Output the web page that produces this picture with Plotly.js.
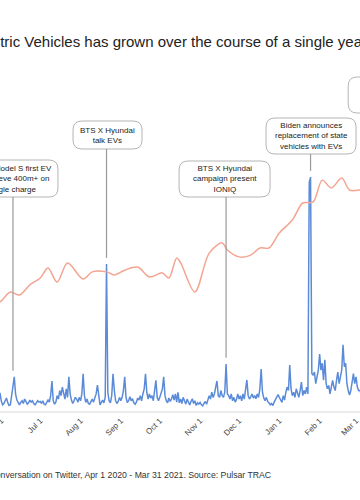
<!DOCTYPE html>
<html><head><meta charset="utf-8">
<script src="https://cdn.plot.ly/plotly-3.0.1.min.js"></script>
<style>
html,body{margin:0;padding:0;overflow:hidden;width:360px;height:500px;background:#fff;}
#chart{position:absolute;left:-200px;top:0;width:640px;height:500px;}
</style></head><body><div id="chart"></div>
<script>
// Daily volume of EV conversation (hundreds of posts), one array per month
const vol2020Apr = [4,3,2.5,2,3,4,5,4,3,2.5,2,3.5,5,6,4,3,2.5,2,4,5,7,5,3,2.5,2,3,4,6,4,3];
const vol2020May = [3,2.5,2,3,4,5,4,3,2.5,2,3,5,4,3.5,3,2,2.5,4,6,5,3,2.5,2,3,4,5,4,3,2,3.5,5.3];
const vol2020Jun = [3,1.8,2.2,3.2,3.8,2.5,1.6,1.8,4.5,6,10,5,3.2,2.5,1.8,2.5,3,2.2,3.5,2.8,2,2.4,3.2,2.6,3,2.2,1.8,2.4,3,2.6];
const vol2020Jul = [2.8,2.2,3,2,1.8,2.5,3.2,2.6,4.5,8.8,3,2,2.6,4.5,3.5,6,4.5,7,5,3.5,6.5,4,10,5,3.2,2.2,3,4,3.5,2.6,4];
const vol2020Aug = [3,5,10.9,4.5,2.5,3.5,2.2,2,2.8,3.5,2.6,3.8,5,7.6,3.5,1.8,2.5,3.2,2.4,4,43.1,5.5,3,2.4,4.5,10.9,6,3,2.2,2.8,4];
const vol2020Sep = [3,4,6,10,4,2.5,3,4.2,3,3.6,2.4,2,2.6,3.8,3.2,4.5,3,5,6.5,10.9,5.5,3.5,5,3.8,4.5,3,5.5,9,4,3];
const vol2020Oct = [4,5.5,6.5,10,4.5,3,2.4,3.8,2.8,3.5,4.8,3.2,5,2.6,5.5,2.4,3.5,2.2,4,3,2,3.5,2.5,1.8,2.8,3.6,2.2,3,1.6,2.4,2];
const vol2020Nov = [2.5,1.8,1.5,2.2,2.8,2,3.2,4.5,3.5,5.5,4,5,7,8.8,4.5,4,6,4.5,4,5.5,13.8,5,4.5,3.5,5,3,4,2.6,3.4,5];
const vol2020Dec = [3.5,4.5,3,5,3.5,6,9.1,4.5,3.5,4.2,5,3.8,4.5,3.6,5,4,6.5,12.3,5.5,3.8,3,4,2.8,2.4,1.8,2.2,1.6,2.6,3.4,4,4.8];
const vol2021Jan = [4,3,2.5,4.5,3.2,5.5,7,6,13.5,6.5,4.5,5.5,4,6.5,5,4,6,8.5,4.5,6,5,7,5,67,68.6,11,10.5,11.4,8,10,12];
const vol2021Feb = [16.7,12,14,9,15,8,6.5,7.5,5,7,9,7,6,9,11.4,8,10,12,19.4,13,14,8,6,4.7,6,9,11,8];
const vol2021Mar = [10,7,6,6,5,4,6,8,7,9,6,5,4,6,14,9,7,8,6,5,4,7,9,8,7,6,5,4,6,8,7];
const volumeMonths = [vol2020Apr,vol2020May,vol2020Jun,vol2020Jul,vol2020Aug,vol2020Sep,vol2020Oct,vol2020Nov,vol2020Dec,vol2021Jan,vol2021Feb,vol2021Mar];
const monthStarts = ['2020-04','2020-05','2020-06','2020-07','2020-08','2020-09','2020-10','2020-11','2020-12','2021-01','2021-02','2021-03'];

// Smoothed trend line (secondary scale)
const trendDates = ['2020-04-01','2020-04-12','2020-04-24','2020-05-06','2020-05-18','2020-05-31','2020-06-08','2020-06-15','2020-06-23','2020-07-01','2020-07-07','2020-07-14','2020-07-22','2020-08-03','2020-08-10','2020-08-21','2020-08-27','2020-09-04','2020-09-14','2020-09-23','2020-10-03','2020-10-08','2020-10-14','2020-10-17','2020-10-28','2020-11-08','2020-11-18','2020-11-22','2020-12-01','2020-12-10','2020-12-17','2020-12-24','2021-01-01','2021-01-11','2021-01-19','2021-01-27','2021-02-03','2021-02-10','2021-02-18','2021-02-24','2021-03-04','2021-03-15','2021-03-31'];
const trendValues = [28,30,29,31,30,32,34.9,34,37,39,41.9,37.8,43.4,38.7,40.8,40.8,39.9,41.3,42.2,39.3,40.5,39,44.9,43.5,34.9,46.3,49.3,47.2,45.2,45.7,47.8,47.8,52.2,56,61,61.3,67.7,65.4,68.3,64.8,64.8,65.5,66];

// Events
const eventDates = ['2020-06-10','2020-08-21','2020-11-21','2021-01-25','2021-03-15'];
const eventLabels = [
  'Tesla Model S first EV<br>to achieve 400m+ on<br>single charge',
  'BTS X Hyundai<br>talk EVs',
  'BTS X Hyundai<br>campaign present<br>IONIQ',
  'Biden announces<br>replacement of state<br>vehicles with EVs',
  'VW Power Day<br>sets out battery<br>plans'
];

const titleText = 'Conversation around Electric Vehicles has grown over the course of a single year';
const captionText = 'Volume of Electric Vehicle conversation on Twitter, Apr 1 2020 - Mar 31 2021. Source: Pulsar TRAC';

// build daily x/y
const days = [], volume = [];
volumeMonths.forEach((arr, m) => {
  arr.forEach((v, i) => {
    days.push(monthStarts[m] + '-' + String(i + 1).padStart(2, '0'));
    volume.push(v);
  });
});

// layout geometry
const OFFSET = 200, FIG_W = 640, FIG_H = 500;
const M = {l: 122, r: 45, t: 70, b: 89};
const PW = FIG_W - M.l - M.r, PH = FIG_H - M.t - M.b;
const X0 = '2020-04-01', X1 = '2021-03-31';
const YMAX = 100;
const dateFrac = d => (Date.parse(d) - Date.parse(X0)) / (Date.parse(X1) - Date.parse(X0));
const screenYtoPaper = sy => (FIG_H - M.b - sy) / PH;
const screenXtoPaper = sx => (sx + OFFSET - M.l) / PW;

// box styling per event: [dx px, top screen y, width, height]
const boxStyle = [[0,160,90,37],[1,121,69,28],[-1.5,161,91,36],[0.5,118,90,36],[19,77,90,36]];

const FONT = 'Liberation Sans, Arial, sans-serif';
const shapes = [], annotations = [];
const R = 9;
eventDates.forEach((d, i) => {
  const [dx, top, w, h] = boxStyle[i];
  const cx = dateFrac(d) + dx / PW;
  const x0 = cx - w / 2 / PW, x1 = cx + w / 2 / PW;
  const yb = screenYtoPaper(top + h), yt = screenYtoPaper(top);
  const rx = R / PW, ry = R / PH;
  const path = `M ${x0+rx},${yb} L ${x1-rx},${yb} Q ${x1},${yb} ${x1},${yb+ry} L ${x1},${yt-ry} Q ${x1},${yt} ${x1-rx},${yt} L ${x0+rx},${yt} Q ${x0},${yt} ${x0},${yt-ry} L ${x0},${yb+ry} Q ${x0},${yb} ${x0+rx},${yb} Z`;
  shapes.push({type:'path', xref:'paper', yref:'paper', path, line:{color:'#b5b5b5', width:1}, fillcolor:'#ffffff', layer:'above'});
  const idx = days.indexOf(d);
  const peak = Math.max(volume[idx-1], volume[idx], volume[idx+1]);
  shapes.push({type:'line', xref:'x', yref:'y', x0:d, x1:d, y0: peak + 1.8, y1: (screenYtoPaper(top + h)) * YMAX, line:{color:'#999999', width:1.2}, layer:'above'});
  annotations.push({xref:'paper', yref:'paper', x: cx, y: (yb + yt) / 2, xanchor:'center', yanchor:'middle', showarrow:false, align:'center', text: eventLabels[i], font:{family:FONT, size:8, color:'#222222'}});
});

annotations.push({xref:'paper', yref:'paper', x: screenXtoPaper(273), y: screenYtoPaper(475), xanchor:'right', yanchor:'middle', showarrow:false, text: captionText, font:{family:FONT, size:8.7, color:'#333333'}});

const traces = [
  {x: trendDates, y: trendValues, type:'scatter', mode:'lines', yaxis:'y2', line:{color:'#f4a591', width:1.5, shape:'spline', smoothing:0.9}, hoverinfo:'skip'},
  {x: days, y: volume, type:'scatter', mode:'lines', line:{color:'#5b8bd8', width:1.5}, hoverinfo:'skip'}
];

const layout = {
  width: FIG_W, height: FIG_H,
  margin: M,
  paper_bgcolor:'#ffffff', plot_bgcolor:'#ffffff',
  showlegend:false,
  font:{family:FONT, color:'#333'},
  title:{text: titleText, font:{family:FONT, size:15, color:'#222222'}, xref:'container', yref:'container', x: (367 + OFFSET)/FIG_W, xanchor:'right', y: 1 - 42/FIG_H, yanchor:'middle'},
  xaxis:{type:'date', range:[X0, X1], tick0:'2020-04-01', dtick:'M1', tickformat:'%b %-d', tickangle:-45, showgrid:false, zeroline:false, showline:true, linecolor:'#ececec', linewidth:2, ticks:'', tickfont:{family:FONT, size:8, color:'#444'}},
  yaxis:{range:[0, YMAX], showgrid:false, zeroline:false, showticklabels:false, showline:false},
  yaxis2:{range:[0, YMAX], overlaying:'y', side:'right', showgrid:false, zeroline:false, showticklabels:false, showline:false},
  shapes, annotations
};
Plotly.newPlot('chart', traces, layout, {staticPlot:true, displayModeBar:false});
</script></body></html>
